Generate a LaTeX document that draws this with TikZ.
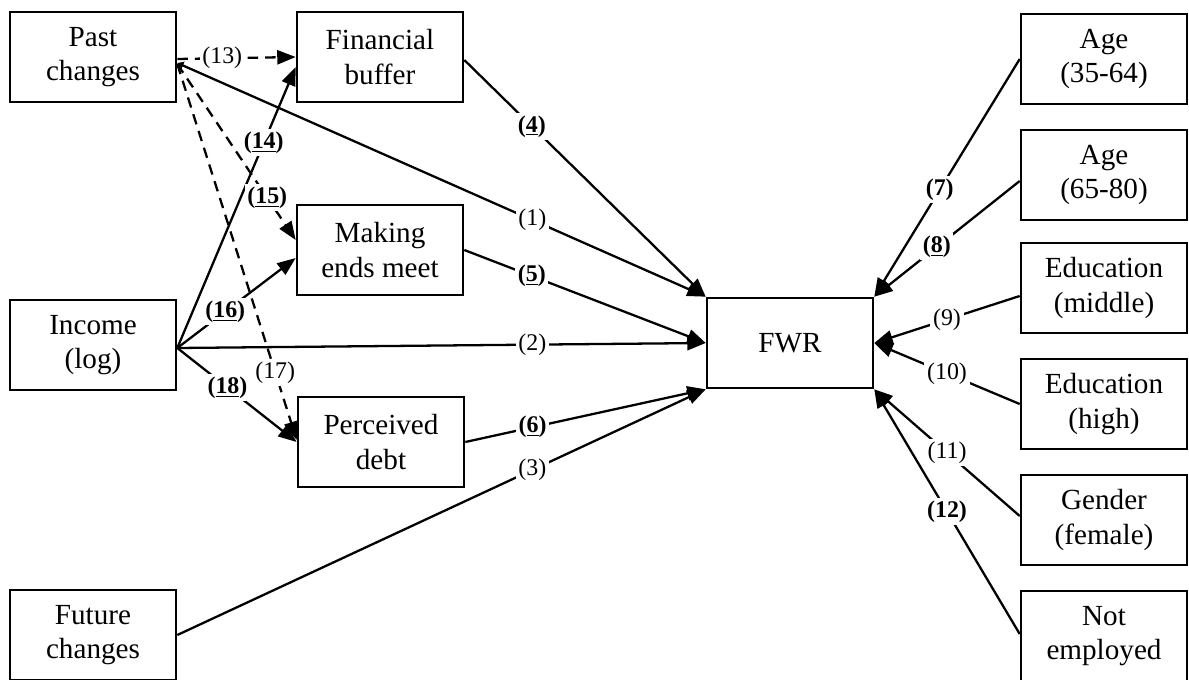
\documentclass[tikz,border=0pt]{standalone}
\usepackage{fontspec}
\setmainfont{Liberation Serif}
\usetikzlibrary{arrows.meta,calc}
\begin{document}
\begin{tikzpicture}[x=0.02cm,y=-0.02cm,
  box/.style={draw,line width=1.5pt,minimum width=3.32cm,minimum height=1.8cm,align=center,inner sep=0pt,font=\fontsize{16.6}{19.4}\selectfont},
  conn/.style={line width=1.3pt,-{Triangle[length=10.5pt,width=8pt]}},
  dconn/.style={conn,dash pattern=on 6pt off 4pt},
  lab/.style={fill=white,inner sep=1.5pt,font=\fontsize{13.6}{15}\selectfont},
]
\useasboundingbox (0,0) rectangle (1189,679);

% left column
\node[box] (past) at (93,57) {Past\\changes};
\node[box] (inc) at (93,345) {Income\\(log)};
\node[box] (fut) at (93,635) {Future\\changes};
% mediators
\node[box] (buf) at (380,57) {Financial\\buffer};
\node[box] (mem) at (380,250) {Making\\ends meet};
\node[box] (debt) at (381,442) {Perceived\\debt};
% outcome
\node[box] (fwr) at (790,343) {FWR};
% right column
\node[box] (age1) at (1104,59) {Age\\(35-64)};
\node[box] (age2) at (1104,175) {Age\\(65-80)};
\node[box] (edum) at (1104,288) {Education\\(middle)};
\node[box] (eduh) at (1104,404) {Education\\(high)};
\node[box] (gend) at (1104,520) {Gender\\(female)};
\node[box] (nemp) at (1104,636) {Not\\employed};

% direct effects to FWR
\draw[conn,{Triangle[length=3.5pt,width=4.5pt]}-{Triangle[length=10.5pt,width=8pt]}] ($(past.east)+(0,6)$) -- (fwr.north west) node[lab,pos=0.672] {(1)};
\draw[conn] ($(inc.east)+(0,3)$) -- (fwr.west) node[lab,pos=0.672] {(2)};
\draw[conn] (fut.east) -- (fwr.south west) node[lab,pos=0.672] {(3)};
\draw[conn] ($(buf.east)+(0,3)$) -- (fwr.north west) node[lab,pos=0.28] {\textbf{(\underline{4})}};
\draw[conn] (mem.east) -- (fwr.west) node[lab,pos=0.28] {\textbf{(\underline{5})}};
\draw[conn] (debt.east) -- (fwr.south west) node[lab,pos=0.28] {\textbf{(\underline{6})}};

% controls
\draw[conn] (age1.west) -- (fwr.north east) node[lab,pos=0.55] {\textbf{(7)}};
\draw[conn] ($(age2.west)+(0,6)$) -- (fwr.north east) node[lab,pos=0.57] {\textbf{(\underline{8})}};
\draw[conn] ($(edum.west)+(0,8)$) -- (fwr.east) node[lab,pos=0.5] {(9)};
\draw[conn] (eduh.west) -- (fwr.east) node[lab,pos=0.5] {(10)};
\draw[conn] ($(gend.west)+(0,-4)$) -- (fwr.south east) node[lab,pos=0.5] {(11)};
\draw[conn] ($(nemp.west)+(0,-2)$) -- (fwr.south east) node[lab,pos=0.5] {\textbf{(12)}};

% paths to mediators
\draw[dconn] ($(past.east)+(0,2)$) -- (buf.west) node[lab,pos=0.38] {(13)};
\draw[conn] ($(inc.east)+(0,3)$) -- ($(buf.west)+(0,10)$) node[lab,pos=0.73] {\textbf{(\underline{14})}};
\draw[dconn] ($(past.east)+(0,7)$) -- ($(mem.west)+(0,-10)$) node[lab,pos=0.76] {\textbf{(\underline{15})}};
\draw[conn] ($(inc.east)+(0,3)$) -- ($(mem.west)+(0,8)$) node[lab,pos=0.405] {\textbf{(\underline{16})}};
\draw[dconn] ($(past.east)+(0,7)$) -- ($(debt.west)+(0,-2)$) node[lab,pos=0.82] {(17)};
\draw[conn] ($(inc.east)+(0,3)$) -- (debt.west) node[lab,pos=0.42] {\textbf{(\underline{18})}};
\end{tikzpicture}
\end{document}
